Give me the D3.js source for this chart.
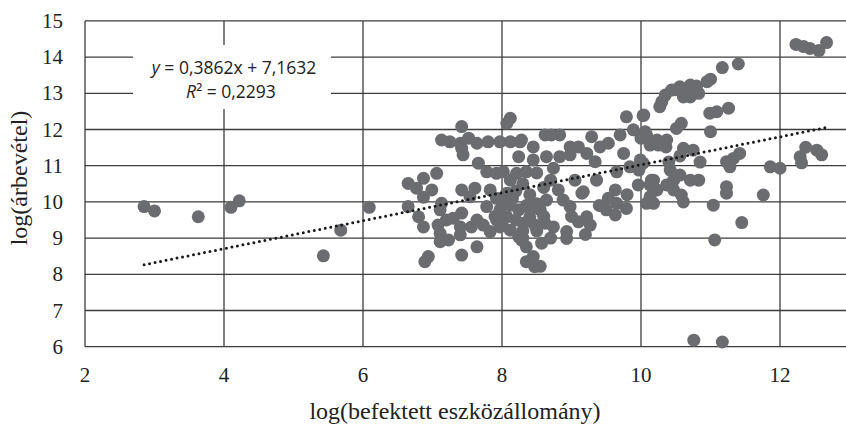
<!DOCTYPE html>
<meta charset="utf-8">
<script src="https://d3js.org/d3.v7.min.js"></script>
<style>
  body { margin: 0; background: #fff; }
</style>
<div id="chart"></div>
<script>
// log(befektett eszközállomány) and log(árbevétel), one pair per firm
var logAssets = [
  2.85, 3.00, 3.63, 4.10, 4.22, 5.43, 5.68, 6.09,
  12.23, 12.34, 12.43, 12.56, 12.67,
  10.30, 10.35, 10.44, 10.56, 10.71, 10.83, 10.95, 11.00, 10.61, 10.71, 10.27, 10.50, 10.80, 10.65,
  11.17, 11.40, 10.99, 11.09, 11.26, 10.03, 10.58, 10.51, 11.00, 10.06, 10.00, 10.13, 10.25, 10.37,
  10.36, 10.61, 10.75, 10.56, 10.03, 9.97, 11.23, 11.33, 11.42, 11.28, 11.86, 12.00, 10.42, 10.18,
  10.13, 10.37, 10.47, 10.56, 10.71, 10.83, 10.47, 10.58, 10.61, 10.13, 10.08, 11.04, 11.23, 11.23,
  11.76, 11.45, 11.06, 12.29, 12.37, 12.31, 12.53, 12.60, 10.76, 11.17,
  9.79, 10.04, 9.89, 8.28, 8.45, 8.62, 8.71, 8.83, 8.98, 9.10, 9.29, 9.53, 9.70, 9.75, 10.08, 10.23,
  8.45, 8.64, 8.83, 8.98, 8.74, 9.22, 9.34, 9.41, 8.35, 9.17, 9.36, 9.65, 9.84, 9.99, 10.15, 9.96,
  10.23, 10.18, 9.63, 9.53, 9.65, 9.50, 9.63, 9.79, 8.81, 8.88, 8.98, 9.15, 8.64, 8.55, 8.40, 8.31,
  8.47, 8.62, 8.74, 8.93, 9.10, 9.22, 9.27, 8.93, 8.28, 8.35, 8.57, 8.45, 8.47, 8.55,
  8.12, 8.07, 7.42, 7.13, 7.25, 7.40, 7.52, 7.64, 7.80, 7.97, 8.12, 8.26, 7.44, 7.42, 8.24, 7.66,
  7.78, 7.92, 8.02, 8.21, 8.12, 6.65, 6.87, 7.06, 6.77, 6.99, 6.87, 7.42, 7.61, 7.54, 7.83, 7.92,
  8.07, 7.78, 7.97, 8.12, 8.24, 7.13, 7.11, 6.65, 6.80, 6.87, 7.42, 7.08, 7.20, 7.30, 7.11, 7.11,
  7.23, 7.40, 7.40, 7.56, 7.64, 7.73, 7.83, 7.97, 8.12, 8.24, 7.92, 8.07, 7.64, 7.42, 6.94, 6.89, 8.35,
  8.30, 8.40, 8.50, 8.20, 8.35, 8.50, 8.60, 8.70, 8.00, 8.20, 7.90, 8.15, 8.30, 8.00, 8.40, 8.60,
  8.50, 8.70, 8.30, 9.00, 9.05, 9.40, 9.80, 10.40, 10.85, 9.20
];
var logRevenue = [
  9.87, 9.75, 9.59, 9.85, 10.03, 8.51, 9.22, 9.85,
  14.35, 14.29, 14.24, 14.18, 14.40,
  12.77, 12.95, 13.09, 13.18, 13.23, 13.00, 13.32, 13.39, 12.90, 12.90, 12.63, 13.10, 13.20, 13.05,
  13.71, 13.81, 12.45, 12.49, 12.59, 12.38, 12.17, 12.03, 11.94, 11.94, 11.76, 11.57, 11.57, 11.71,
  11.52, 11.48, 11.43, 11.27, 11.07, 10.88, 11.11, 11.20, 11.34, 10.97, 10.97, 10.93, 10.88, 10.60,
  10.47, 10.47, 10.60, 10.74, 10.60, 10.60, 10.33, 10.19, 10.00, 10.14, 9.96, 9.91, 10.42, 10.24,
  10.19, 9.43, 8.95, 11.25, 11.51, 11.08, 11.43, 11.30, 6.18, 6.13,
  12.35, 12.40, 11.99, 11.71, 11.52, 11.85, 11.85, 11.85, 11.52, 11.52, 11.80, 11.62, 11.85, 11.34, 11.85, 11.71,
  11.16, 11.25, 11.25, 11.30, 10.93, 11.34, 11.11, 11.52, 10.83, 10.28, 10.60, 10.83, 10.97, 11.16, 10.60, 10.47,
  10.33, 9.96, 10.33, 10.10, 9.96, 9.78, 9.64, 9.82, 10.33, 10.05, 9.87, 10.24, 10.05, 9.78, 9.59, 9.41,
  9.36, 9.41, 9.31, 9.18, 9.45, 9.59, 9.36, 8.99, 8.95, 8.76, 8.86, 8.49, 8.21, 8.22,
  12.31, 12.17, 12.08, 11.71, 11.66, 11.62, 11.76, 11.62, 11.66, 11.66, 11.66, 11.66, 11.30, 11.48, 11.25, 11.07,
  10.83, 10.79, 10.83, 10.79, 10.60, 10.51, 10.65, 10.79, 10.38, 10.33, 10.13, 10.33, 10.38, 10.14, 10.33, 10.10,
  10.24, 9.87, 9.78, 9.91, 9.78, 9.96, 9.78, 9.87, 9.59, 9.31, 9.69, 9.36, 9.50, 9.55, 9.13, 8.90,
  8.95, 9.09, 9.31, 9.31, 9.50, 9.36, 9.18, 9.31, 9.22, 9.04, 9.50, 9.59, 8.76, 8.53, 8.49, 8.35, 8.35,
  10.50, 10.20, 10.80, 10.30, 9.90, 9.95, 10.40, 10.60, 10.00, 9.50, 9.60, 10.10, 9.20, 9.40, 9.80, 9.60,
  9.20, 9.00, 9.00, 9.60, 10.60, 9.90, 10.20, 11.10, 11.10, 9.10
];
var xTicks = [2, 4, 6, 8, 10, 12];
var yTicks = [6, 7, 8, 9, 10, 11, 12, 13, 14, 15];
var slope = 0.3862, intercept = 7.1632;
var eqText = "0,3862x + 7,1632";
var r2Text = "0,2293";

var width = 846, height = 428;

var svg = d3.select("#chart").append("svg")
    .attr("width", width)
    .attr("height", height)
    .style("display", "block");

svg.append("rect").attr("width", width).attr("height", height).attr("fill", "#fff");

var x = d3.scaleLinear().domain([2, 13]).range([85, 849.5]);
var y = d3.scaleLinear().domain([6, 15]).range([346.7, 20.9]);

var gridColor = "#3c3c3c";

// horizontal gridlines
svg.append("g").selectAll("line")
  .data(yTicks)
  .enter().append("line")
    .attr("x1", x(2)).attr("x2", x(13))
    .attr("y1", function(d) { return y(d); })
    .attr("y2", function(d) { return y(d); })
    .attr("stroke", gridColor)
    .attr("stroke-width", 1.3);

// vertical gridlines (2 is the axis line itself)
svg.append("g").selectAll("line")
  .data(xTicks)
  .enter().append("line")
    .attr("x1", function(d) { return x(d); })
    .attr("x2", function(d) { return x(d); })
    .attr("y1", y(15)).attr("y2", y(6))
    .attr("stroke", gridColor)
    .attr("stroke-width", 1.3);

// tick labels
svg.append("g").selectAll("text")
  .data(yTicks)
  .enter().append("text")
    .attr("x", 63)
    .attr("y", function(d) { return y(d); })
    .attr("dy", "0.34em")
    .attr("text-anchor", "end")
    .style("font-family", "'Liberation Serif', 'Times New Roman', serif")
    .style("font-size", "21px")
    .style("fill", "#222")
    .text(function(d) { return d; });

svg.append("g").selectAll("text")
  .data(xTicks)
  .enter().append("text")
    .attr("x", function(d) { return x(d); })
    .attr("y", 382)
    .attr("text-anchor", "middle")
    .style("font-family", "'Liberation Serif', 'Times New Roman', serif")
    .style("font-size", "21px")
    .style("fill", "#222")
    .text(function(d) { return d; });

// axis titles
svg.append("text")
    .attr("x", 455)
    .attr("y", 419)
    .attr("text-anchor", "middle")
    .style("font-family", "'Liberation Serif', 'Times New Roman', serif")
    .style("font-size", "24px")
    .style("fill", "#222")
    .text("log(befektett eszközállomány)");

svg.append("text")
    .attr("transform", "translate(27,178) rotate(-90)")
    .attr("text-anchor", "middle")
    .style("font-family", "'Liberation Serif', 'Times New Roman', serif")
    .style("font-size", "24px")
    .style("fill", "#222")
    .text("log(árbevétel)");

// points
var pts = logAssets.map(function(d, i) { return [d, logRevenue[i]]; });

svg.append("g").selectAll("circle")
  .data(pts)
  .enter().append("circle")
    .attr("cx", function(d) { return x(d[0]); })
    .attr("cy", function(d) { return y(d[1]); })
    .attr("r", 6.5)
    .attr("fill", "#6b6c6f");

// linear trendline, dotted
var xMin = d3.min(logAssets), xMax = d3.max(logAssets);
svg.append("line")
    .attr("x1", x(xMin)).attr("y1", y(slope * xMin + intercept))
    .attr("x2", x(xMax)).attr("y2", y(slope * xMax + intercept))
    .attr("stroke", "#1a1a1a")
    .attr("stroke-width", 3)
    .attr("stroke-linecap", "round")
    .attr("stroke-dasharray", "0 5.6");

// equation label
var eq = svg.append("g");
eq.append("rect")
    .attr("x", 133).attr("y", 45)
    .attr("width", 198).attr("height", 64)
    .attr("fill", "#fff");

var t1 = eq.append("text")
    .attr("x", 234).attr("y", 74)
    .attr("text-anchor", "middle")
    .style("font-family", "'Open Sans', sans-serif")
    .style("font-size", "17.5px")
    .style("fill", "#222");
t1.append("tspan").style("font-style", "italic").text("y");
t1.append("tspan").text(" = " + eqText);

var t2 = eq.append("text")
    .attr("x", 231).attr("y", 98)
    .attr("text-anchor", "middle")
    .style("font-family", "'Open Sans', sans-serif")
    .style("font-size", "17.5px")
    .style("fill", "#222");
t2.append("tspan").style("font-style", "italic").text("R");
t2.append("tspan").text("² = " + r2Text);
</script>
